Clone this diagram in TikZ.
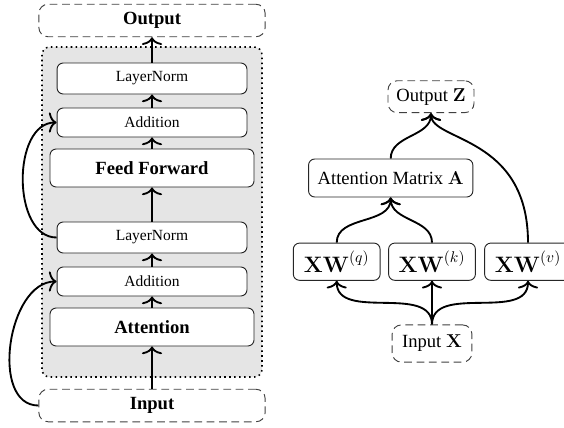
\documentclass[tikz,border=0pt]{standalone}
\usepackage{amsmath}
\usepackage{amssymb}
\usepackage[no-math]{fontspec}
\setmainfont{Liberation Serif}
\usepackage{tikz}
\usetikzlibrary{arrows.meta}

\begin{document}
\begin{tikzpicture}[x=0.645pt, y=0.645pt, >={To[length=5pt, width=13pt]}]
\tikzstyle{every node}+=[inner sep=0pt]
\tikzstyle{blk}=[draw=black!85, line width=0.6pt, rounded corners=4pt, fill=white]
\tikzstyle{io}=[draw=black!75, line width=0.6pt, dash pattern=on 5pt off 3pt, rounded corners=6pt, fill=white]
\tikzstyle{arr}=[->, line width=1.2pt]
\useasboundingbox (0,0) rectangle (564,-427);
\clip (0,0) rectangle (564,-427);
% encoder block
\draw [black, fill=black!10, line width=1pt, dash pattern=on 1pt off 2.2pt, rounded corners=5pt] (42,-47) rectangle (262,-377);
\node [io, minimum width=146pt, minimum height=21pt] (out) at (152,-20.5) {\large\bfseries Output};
\node [blk, minimum width=122.5pt, minimum height=20pt] (ln2) at (152,-78.5) {LayerNorm};
\node [blk, minimum width=122.5pt, minimum height=18.7pt] (add2) at (152,-122.5) {Addition};
\node [blk, minimum width=131.6pt, minimum height=24.5pt] (ff) at (152,-168) {\large\bfseries Feed Forward};
\node [blk, minimum width=122.5pt, minimum height=20pt] (ln1) at (152,-237.5) {LayerNorm};
\node [blk, minimum width=122.5pt, minimum height=18.7pt] (add1) at (152,-281.5) {Addition};
\node [blk, minimum width=131.6pt, minimum height=24.5pt] (att) at (152,-327) {\large\bfseries Attention};
\node [io, minimum width=146pt, minimum height=21pt] (in) at (152,-405.5) {\large\bfseries Input};
\draw [arr] (in.north) -- (att.south);
\draw [arr] (att.north) -- (add1.south);
\draw [arr] (add1.north) -- (ln1.south);
\draw [arr] (ln1.north) -- (ff.south);
\draw [arr] (ff.north) -- (add2.south);
\draw [arr] (add2.north) -- (ln2.south);
\draw [arr] (ln2.north) -- (out.south);
\draw [arr] (in.west) to[out=180, in=180] (add1.west);
\draw [arr] (ln1.west) to[out=180, in=180] (add2.west);
% attention head
\node [io, minimum width=55.5pt, minimum height=20.6pt] (outz) at (431,-96.7) {\large Output $\mathbf{Z}$};
\node [blk, minimum width=106pt, minimum height=24.5pt] (am) at (390.7,-178) {\large Attention Matrix $\mathbf{A}$};
\node [blk, minimum width=56pt, minimum height=24pt] (xq) at (336.7,-261.7) {\Large $\mathbf{XW}^{(q)}$};
\node [blk, minimum width=56pt, minimum height=24pt] (xk) at (432,-261.7) {\Large $\mathbf{XW}^{(k)}$};
\node [blk, minimum width=56pt, minimum height=24pt] (xv) at (528,-261.7) {\Large $\mathbf{XW}^{(v)}$};
\node [io, minimum width=51.5pt, minimum height=24pt] (inx) at (432,-343.5) {\large Input $\mathbf{X}$};
\draw [arr] (inx.north) to[out=90, in=-90] (xq.south);
\draw [arr] (inx.north) -- (xk.south);
\draw [arr] (inx.north) to[out=90, in=-90] (xv.south);
\draw [arr] (xq.north) to[out=90, in=-90] (am.south);
\draw [arr] (xk.north) to[out=90, in=-90] (am.south);
\draw [arr] (am.north) to[out=90, in=-90] (outz.south);
\draw [arr] (xv.north) to[out=90, in=-90, out looseness=1.7, in looseness=0.45] (outz.south);
\end{tikzpicture}
\end{document}
